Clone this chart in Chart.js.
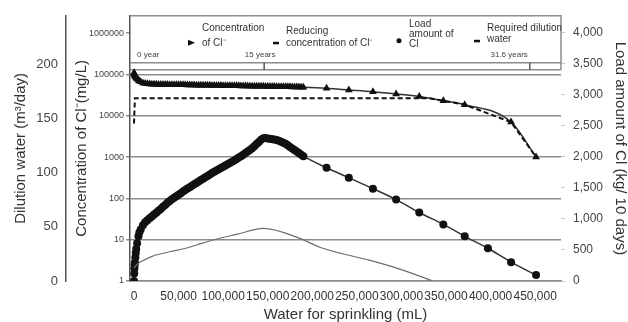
<!DOCTYPE html>
<html lang="en">
<head>
<meta charset="UTF-8" />
<title>Cl load and dilution water</title>
<script src="https://cdn.jsdelivr.net/npm/chart.js"></script>
<style>
  html, body { margin: 0; padding: 0; background: #fff; }
  #wrap { width: 628px; height: 322px; }
</style>
</head>
<body>
<div id="wrap"><canvas id="chart" width="628" height="322"></canvas></div>
<script>
const FONT = "'Liberation Sans', Arial, sans-serif";

// water for sprinkling (mL), one entry per step
const water = [0, 250, 500, 750, 1000, 1500, 2000, 2500, 3500, 5000, 6000, 7500,
  10000, 12500, 15000, 17500, 20000, 22500, 25000, 27500, 30000, 32500,
  35000, 37500, 40000, 42500, 45000, 47500, 50000, 52500, 55000, 57500,
  60000, 62500, 65000, 67500, 70000, 72500, 75000, 77500, 80000, 82500,
  85000, 87500, 90000, 92500, 95000, 97500, 100000, 102500, 105000, 107500,
  110000, 112500, 115000, 117500, 120000, 122500, 125000, 127500, 130000, 132500,
  135000, 137500, 140000, 142500, 145000, 147500, 150000, 152500, 155000, 157500,
  160000, 162500, 165000, 167500, 170000, 172500, 175000, 177500, 180000, 182500,
  185000, 187500, 190000,
  216000, 241000, 268000, 294000, 320000, 347000, 371000, 397000, 423000, 451000];

// concentration of Cl- (mg/L), log axis
const concCl = [110000, 105000, 100000, 97000, 95000, 90000, 86000, 82000, 77000, 72000, 69000, 66000,
  62000, 60000, 59000, 58500, 58000, 57800, 57500, 57200, 57000, 57000,
  57000, 56800, 56500, 56500, 56500, 56200, 56000, 56000, 56000, 55800,
  55500, 55500, 55500, 55200, 55000, 55000, 55000, 54800, 54500, 54500,
  54500, 54200, 54000, 54000, 54000, 53800, 53500, 53500, 53500, 53200,
  53000, 53000, 53000, 52800, 52500, 52500, 52500, 52200, 52000, 52000,
  52000, 51800, 51500, 51500, 51500, 51200, 51000, 51000, 51000, 50800,
  50500, 50500, 50500, 50200, 50000, 50000, 50000, 49800, 49500, 49500,
  49500, 49200, 49000,
  46000, 42000, 38000, 33500, 29000, 23000, 18500, null, 7000, 1000];

// load amount of Cl (kg / 10 days)
const loadCl = [0, 120, 200, 260, 300, 380, 450, 520, 610, 720, 780, 830,
  900, 945, 980, 1010, 1040, 1070, 1100, 1130, 1160, 1195,
  1225, 1260, 1290, 1315, 1340, 1365, 1390, 1415, 1440, 1465,
  1490, 1512, 1535, 1558, 1580, 1602, 1625, 1648, 1670, 1692,
  1715, 1738, 1760, 1780, 1800, 1820, 1840, 1860, 1880, 1900,
  1920, 1942, 1965, 1988, 2010, 2035, 2060, 2085, 2110, 2140,
  2170, 2205, 2240, 2275, 2300, 2302, 2295, 2290, 2285, 2278,
  2270, 2258, 2245, 2228, 2210, 2185, 2160, 2135, 2110, 2085,
  2060, 2035, 2010,
  1824, 1664, 1488, 1312, 1104, 912, 720, 528, 304, 96];

// reducing concentration of Cl- (mg/L)
const reduceWater = [0, 1000, 331000, 347000, 371000, 423000, 451000];
const reduceCl = [6500, 26500, 26500, 23000, 18500, 7000, 1000];

// required dilution water (m3/day)
const dilutionWater = [0, 3000, 7000, 21000, 40000, 57000, 77000, 96000, 115000, 145000,
  186000, 209000, 265000, 298000, 334000];
const dilutionM3 = [12, 15, 17.5, 23, 27, 30, 35, 39.5, 43, 48.6,
  39.4, 31, 19, 11, 0.5];

// tick labels
const xTicks = [0, 50000, 100000, 150000, 200000, 250000, 300000, 350000, 400000, 450000];
const concTicks = [1, 10, 100, 1000, 10000, 100000, 1000000];
const loadTicks = [0, 500, 1000, 1500, 2000, 2500, 3000, 3500, 4000];
const dilutionTicks = [0, 50, 100, 150, 200];

// elapsed years along the water axis
const yearLabels = ['0 year', '15 years', '31.6 years'];
const yearWater = [0, 146000, 444000];

// legend text, one array of lines per dataset
const legendLines = [
  ['Concentration', 'of Cl\u207B'],
  ['Reducing', 'concentration of Cl\u207B'],
  ['Load', 'amount of', 'Cl'],
  ['Required dilution', 'water']
];

const pts = (xs, ys) => xs.map((x, i) => ({ x: x, y: ys[i] }));
const fixTicks = list => scale => { scale.ticks = list.map(v => ({ value: v })); };

// white header box with legend and year marks, over the top of the plot
const headerBox = {
  id: 'headerBox',
  beforeDatasetsDraw(chart) {
    const { ctx, chartArea: a, scales: { x } } = chart;
    const top = a.top, lineA = a.top + 47, lineB = a.top + 54;
    ctx.save();
    ctx.fillStyle = '#fff';
    ctx.fillRect(a.left + 1, top, a.right - a.left, lineB - top);

    ctx.strokeStyle = '#8c8c8c';
    ctx.lineWidth = 1.5;
    ctx.beginPath();
    ctx.moveTo(a.left, top); ctx.lineTo(a.right, top);
    ctx.lineTo(a.right, lineB);
    ctx.moveTo(a.left, lineA); ctx.lineTo(a.right, lineA);
    ctx.moveTo(a.left, lineB); ctx.lineTo(a.right, lineB);
    ctx.stroke();

    // year ticks and labels
    ctx.fillStyle = '#444';
    ctx.font = '8px ' + FONT;
    ctx.textBaseline = 'middle';
    yearLabels.forEach((lab, i) => {
      const px = x.getPixelForValue(yearWater[i]);
      if (i > 0) {
        ctx.strokeStyle = '#555';
        ctx.lineWidth = 1.5;
        ctx.beginPath();
        ctx.moveTo(px, lineA); ctx.lineTo(px, lineB);
        ctx.stroke();
      }
      ctx.textAlign = i === 0 ? 'left' : (i === 1 ? 'center' : 'right');
      const tx = i === 0 ? px + 3 : (i === 1 ? px - 4 : px - 2);
      ctx.fillText(lab, tx, lineA - 8);
    });

    // legend
    const marks = [
      { dx: 62, dy: 27, kind: 'triangle', lines: [12, 27] },
      { dx: 146, dy: 27, kind: 'dash', lines: [15, 27] },
      { dx: 269, dy: 25, kind: 'dot', lines: [8, 18, 28] },
      { dx: 347, dy: 25, kind: 'dash', lines: [12, 23] }
    ];
    ctx.font = '10px ' + FONT;
    ctx.textAlign = 'left';
    marks.forEach((m, i) => {
      const mx = a.left + m.dx, my = top + m.dy;
      ctx.fillStyle = '#111';
      if (m.kind === 'triangle') {
        ctx.beginPath();
        ctx.moveTo(mx - 4, my - 3); ctx.lineTo(mx + 3, my); ctx.lineTo(mx - 4, my + 3);
        ctx.closePath(); ctx.fill();
      } else if (m.kind === 'dot') {
        ctx.beginPath(); ctx.arc(mx, my, 2.5, 0, Math.PI * 2); ctx.fill();
      } else {
        ctx.fillRect(mx - 3, my - 1, 6, 2.5);
      }
      ctx.fillStyle = '#333';
      legendLines[i].forEach((t, j) => ctx.fillText(t, mx + 10, top + m.lines[j]));
    });
    ctx.restore();
  }
};

new Chart(document.getElementById('chart'), {
  type: 'line',
  data: {
    datasets: [
      {
        label: 'Required dilution water',
        data: pts(dilutionWater, dilutionM3),
        yAxisID: 'yDil',
        borderColor: '#6e6e6e',
        borderWidth: 1.2,
        pointRadius: 0,
        cubicInterpolationMode: 'monotone'
      },
      {
        label: 'Load amount of Cl',
        data: pts(water, loadCl),
        yAxisID: 'yLoad',
        borderColor: '#333',
        borderWidth: 1.5,
        pointStyle: 'circle',
        pointRadius: 4,
        pointBorderWidth: 0,
        pointBackgroundColor: '#111',
        cubicInterpolationMode: 'monotone'
      },
      {
        label: 'Reducing concentration of Cl\u207B',
        data: pts(reduceWater, reduceCl),
        yAxisID: 'y',
        borderColor: '#111',
        borderWidth: 2,
        borderDash: [5, 3],
        pointRadius: 0
      },
      {
        label: 'Concentration of Cl\u207B',
        data: pts(water, concCl),
        yAxisID: 'y',
        borderColor: '#333',
        borderWidth: 1.5,
        pointStyle: 'triangle',
        pointRadius: 4.5,
        pointBorderWidth: 0,
        pointBackgroundColor: '#111',
        spanGaps: true,
        cubicInterpolationMode: 'monotone'
      }
    ]
  },
  options: {
    responsive: false,
    animation: false,
    layout: { padding: { top: 14, left: 0, right: 0, bottom: 0 } },
    plugins: { legend: { display: false }, tooltip: { enabled: false } },
    scales: {
      x: {
        type: 'linear',
        min: -4500,
        max: 479000,
        afterBuildTicks: fixTicks(xTicks),
        afterFit: s => { s.height = 41; },
        ticks: {
          autoSkip: false, maxRotation: 0, padding: 8,
          color: '#333', font: { family: FONT, size: 12 },
          callback: v => v.toLocaleString('en-US')
        },
        grid: { display: false, drawTicks: false },
        border: { color: '#8c8c8c', width: 1.5 },
        title: {
          display: true, text: 'Water for sprinkling (mL)', color: '#333',
          font: { family: FONT, size: 15, lineHeight: 1 }, padding: 0
        }
      },
      yDil: {
        position: 'left',
        weight: 1,
        min: 0,
        max: 245,
        afterBuildTicks: fixTicks(dilutionTicks),
        afterFit: s => { s.width = 66; },
        ticks: { padding: 8, color: '#444', font: { family: FONT, size: 13 } },
        grid: { display: false, drawTicks: false },
        border: { color: '#555', width: 1.5 },
        title: {
          display: true, text: 'Dilution water (m\u00B3/day)', color: '#333',
          font: { family: FONT, size: 15 }, padding: { top: 12, bottom: 0 }
        }
      },
      y: {
        type: 'logarithmic',
        position: 'left',
        weight: 0,
        min: 1,
        max: 2620000,
        afterBuildTicks: fixTicks(concTicks),
        afterFit: s => { s.width = 64; },
        ticks: {
          padding: 2, color: '#444', font: { family: FONT, size: 9 },
          callback: v => String(v)
        },
        grid: { color: '#8c8c8c', lineWidth: 1.5, tickLength: 4 },
        border: { color: '#555', width: 1.5 },
        title: {
          display: true, text: 'Concentration of Cl\u207B(mg/L)', color: '#333',
          font: { family: FONT, size: 15 }, padding: { top: 7, bottom: 0 }
        }
      },
      yLoad: {
        position: 'right',
        min: 0,
        max: 4272,
        afterBuildTicks: fixTicks(loadTicks),
        afterFit: s => { s.width = 67; },
        ticks: {
          padding: 8, color: '#444', font: { family: FONT, size: 12 },
          callback: v => v.toLocaleString('en-US')
        },
        grid: { drawOnChartArea: false, color: '#c8c8c8', tickLength: 4 },
        border: { display: false },
        title: {
          display: true, text: 'Load amount of Cl (kg/ 10 days)', color: '#333',
          font: { family: FONT, size: 15, lineHeight: 1 }, padding: { top: 0, bottom: 0 }
        }
      }
    }
  },
  plugins: [headerBox]
});
</script>
</body>
</html>
